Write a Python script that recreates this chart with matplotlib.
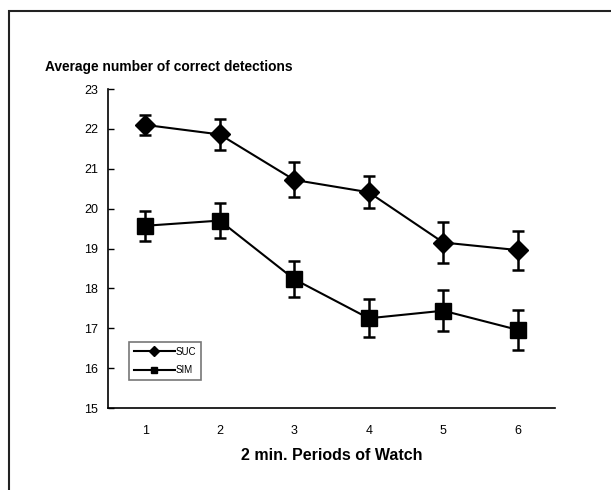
"""Average number of correct detections per 2 min. watch period."""

import matplotlib

matplotlib.use("Agg")
import matplotlib.pyplot as plt
from matplotlib.patches import Rectangle

periods = [1, 2, 3, 4, 5, 6]
suc_mean = [22.10, 21.86, 20.72, 20.41, 19.15, 18.96]
suc_err = [0.25, 0.40, 0.44, 0.40, 0.52, 0.49]
sim_mean = [19.57, 19.70, 18.23, 17.25, 17.44, 16.96]
sim_err = [0.38, 0.43, 0.45, 0.48, 0.51, 0.50]
yticks = [15, 16, 17, 18, 19, 20, 21, 22, 23]

plt.rcParams["font.family"] = ["Liberation Sans", "DejaVu Sans"]

fig = plt.figure(figsize=(6.11, 4.90), dpi=100)
fig.patches.append(Rectangle((8.5 / 611, -0.1), 1.2, 1.1 - 11.5 / 490,
                             transform=fig.transFigure, fill=False,
                             edgecolor="#222222", linewidth=1.5))
ax = fig.add_axes([108 / 611, 1 - 408 / 490, 447 / 611, 319 / 490])

for mean, err, mk, ms, lab in [(suc_mean, suc_err, "D", 10, "SUC"),
                               (sim_mean, sim_err, "s", 11, "SIM")]:
    ax.errorbar(periods, mean, yerr=err, color="black", marker=mk, ms=ms,
                lw=1.5, elinewidth=1.8, capsize=4.5, capthick=1.8, label=lab)

ax.set_xlim(0.5, 6.5)
ax.set_ylim(15, 23)
ax.set_yticks(yticks)
ax.set_xticks(periods)
ax.tick_params(axis="y", direction="in", length=4, width=1, labelsize=9, pad=7)
ax.tick_params(axis="x", length=0, labelsize=9, pad=12)
for s in ["top", "right"]:
    ax.spines[s].set_visible(False)
for s in ["left", "bottom"]:
    ax.spines[s].set_linewidth(1.2)

ax.set_xlabel("2 min. Periods of Watch", fontsize=11.5, fontweight="bold", labelpad=8)
fig.text(45 / 611, 1 - 67 / 490, "Average number of correct detections",
         fontsize=9.9, fontweight="bold", va="center", ha="left")

handles, labels = ax.get_legend_handles_labels()
hs = []
for h in handles:
    line = h[0]
    hs.append(plt.Line2D([], [], color="black", marker=line.get_marker(), ms=5, lw=1.5))
leg = ax.legend(hs, labels, loc="lower left", bbox_to_anchor=(16 / 447, 23 / 319),
                fontsize=7, frameon=True, fancybox=False, handlelength=4.2,
                borderpad=0.5, labelspacing=0.9, handletextpad=0.1)
leg.get_frame().set_edgecolor("#555555")
leg.get_frame().set_linewidth(1.2)

fig.savefig("out.png", dpi=100)
